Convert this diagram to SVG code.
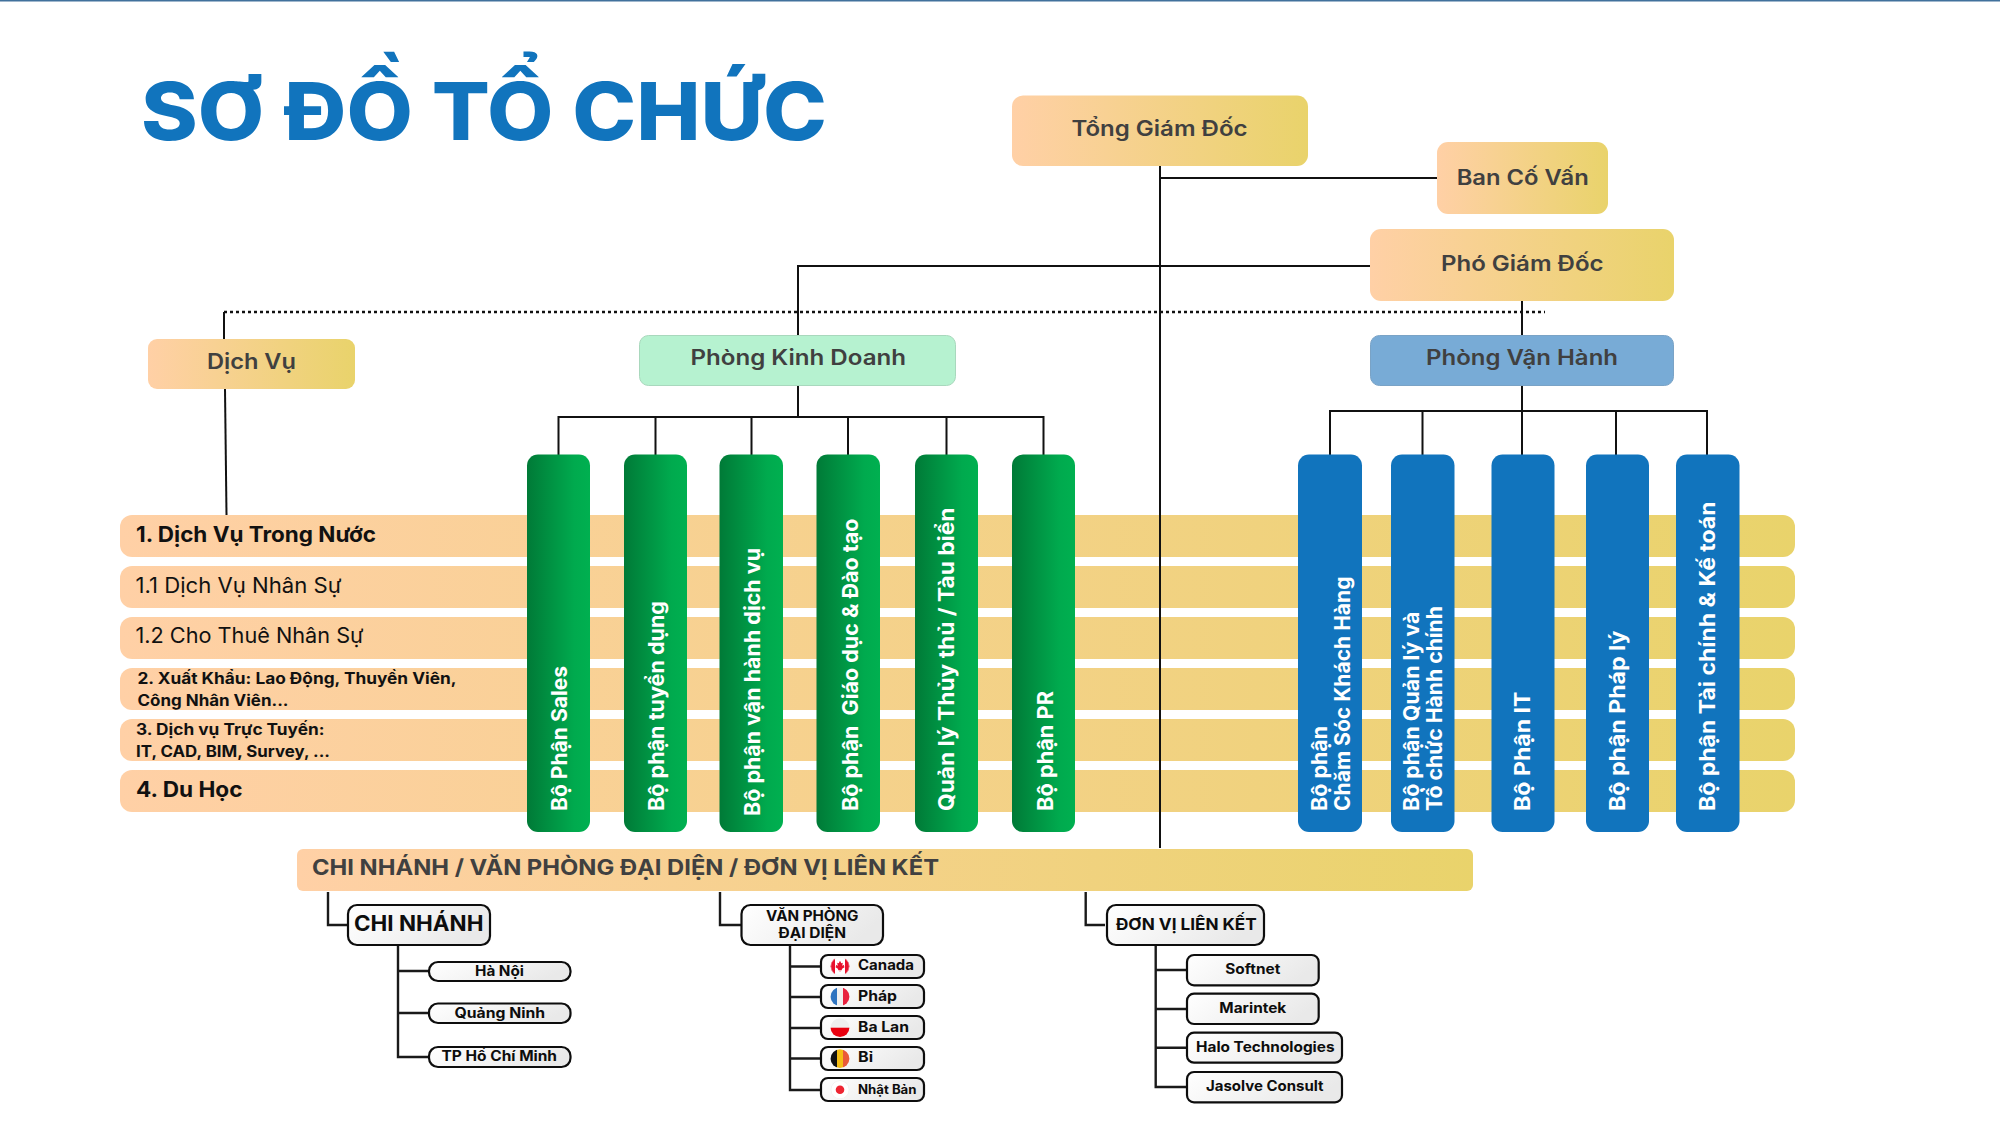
<svg xmlns="http://www.w3.org/2000/svg" width="2000" height="1136" viewBox="0 0 2000 1136">
  <style>
    text { font-family: "Inter", "Noto Sans", "Liberation Sans", sans-serif; }
    .title { font-size: 80px; font-weight: 800; fill: #1174bd; }
    .head { font-size: 21px; font-weight: 600; fill: #404040; }
    .strong { font-size: 21px; font-weight: 700; fill: #111; }
    .plain { font-size: 21px; font-weight: 400; fill: #111; }
    .small { font-size: 15.5px; font-weight: 700; fill: #111; }
    .banner { font-size: 21.5px; font-weight: 700; fill: #404040; }
    .col { font-size: 21px; font-weight: 700; fill: #fff; }
    .unit { font-size: 21px; font-weight: 700; fill: #0d0d0d; }
    .sub { font-size: 14px; font-weight: 700; fill: #0d0d0d; }
    .line { fill: none; stroke: #111; stroke-width: 2; }
    .heavy { fill: none; stroke: #1a1a1a; stroke-width: 2.4; }
    .dots { fill: none; stroke: #111; stroke-width: 2.4; stroke-dasharray: 3 3; }
    .box { stroke: #0d0d0d; stroke-width: 2.2; fill: url(#paper); }
  </style>
  <defs>
    <linearGradient id="warm" x1="0" x2="1" y1="0" y2="0">
      <stop offset="0" stop-color="#ffd0a6"/>
      <stop offset="1" stop-color="#e9d36b"/>
    </linearGradient>
    <linearGradient id="green" x1="0" x2="1" y1="0" y2="0">
      <stop offset="0" stop-color="#007a37"/>
      <stop offset="0.75" stop-color="#00aa4e"/>
      <stop offset="1" stop-color="#00b050"/>
    </linearGradient>
    <linearGradient id="paper" x1="0" x2="1" y1="0" y2="0.3">
      <stop offset="0" stop-color="#ffffff"/>
      <stop offset="1" stop-color="#e9e9e9"/>
    </linearGradient>
    <clipPath id="disc"><circle cx="0" cy="0" r="9.4"/></clipPath>
  </defs>

  <rect x="0" y="0" width="2000" height="1136" fill="#ffffff"/>
  <rect x="0" y="0" width="2000" height="1.5" fill="#41719c"/>

  <text class="title" x="141" y="139.5" textLength="686" lengthAdjust="spacingAndGlyphs">SƠ ĐỒ TỔ CHỨC</text>

  <!-- Service rows run behind the department columns -->
  <g id="service-rows">
    <g id="row-1"><rect x="120" y="515" width="1675" height="42" rx="12" fill="url(#warm)"/></g>
    <g id="row-1-1"><rect x="120" y="566" width="1675" height="42" rx="12" fill="url(#warm)"/></g>
    <g id="row-1-2"><rect x="120" y="617" width="1675" height="42" rx="12" fill="url(#warm)"/></g>
    <g id="row-2"><rect x="120" y="668" width="1675" height="42" rx="12" fill="url(#warm)"/></g>
    <g id="row-3"><rect x="120" y="719" width="1675" height="42" rx="12" fill="url(#warm)"/></g>
    <g id="row-4"><rect x="120" y="770" width="1675" height="42" rx="12" fill="url(#warm)"/></g>
  </g>

  <g id="connectors">
    <path class="line" d="M1160 166V848"/>
    <path class="line" d="M1160 178H1437"/>
    <path class="line" d="M1370 266H798V335"/>
    <path class="line" d="M798 385V417"/>
    <path class="line" d="M558.5 455V417H1043.5V455"/>
    <path class="line" d="M655.5 417V455M751.5 417V455M848 417V455M946.5 417V455"/>
    <path class="dots" d="M224 312H1545"/>
    <path class="line" d="M224 339V312"/>
    <path class="line" d="M225 389L226.500 515"/>
    <path class="line" d="M1522 300V335M1522 385V455"/>
    <path class="line" d="M1330 455V411H1707V455"/>
    <path class="line" d="M1422.500 411V455M1616 411V455"/>
    <path class="heavy" d="M328 892V925H348"/>
    <path class="heavy" d="M398 945V1057H429M398 971H429M398 1013H429"/>
    <path class="heavy" d="M720 892V925H741"/>
    <path class="heavy" d="M790 945V1090H821M790 966.500H821M790 997H821M790 1028H821M790 1058.500H821"/>
    <path class="heavy" d="M1085.700 892V925H1105"/>
    <path class="heavy" d="M1155.700 945V1087H1186M1155.700 970H1186M1155.700 1009H1186M1155.700 1047.700H1186"/>
  </g>

  <g id="tong-giam-doc">
    <rect x="1012" y="95.500" width="296" height="70.500" rx="11" fill="url(#warm)"/>
    <text class="head" x="1071.500" y="136" textLength="176" lengthAdjust="spacingAndGlyphs">Tổng Giám Đốc</text>
  </g>
  <g id="ban-co-van">
    <rect x="1437" y="142" width="171" height="72" rx="11" fill="url(#warm)"/>
    <text class="head" x="1456.700" y="184.500" textLength="132" lengthAdjust="spacingAndGlyphs">Ban Cố Vấn</text>
  </g>
  <g id="pho-giam-doc">
    <rect x="1370" y="229" width="304" height="72" rx="11" fill="url(#warm)"/>
    <text class="head" x="1441" y="271" textLength="162.500" lengthAdjust="spacingAndGlyphs">Phó Giám Đốc</text>
  </g>
  <g id="dich-vu">
    <rect x="148" y="339" width="207" height="50" rx="9" fill="url(#warm)"/>
    <text class="head" x="207" y="369" textLength="89" lengthAdjust="spacingAndGlyphs">Dịch Vụ</text>
  </g>
  <g id="phong-kinh-doanh">
    <rect x="639.500" y="335.500" width="316" height="50" rx="9" fill="#b6f2d0" stroke="#a9d8bd" stroke-width="1"/>
    <text class="head" x="690.500" y="365" textLength="215.500" lengthAdjust="spacingAndGlyphs">Phòng Kinh Doanh</text>
  </g>
  <g id="phong-van-hanh">
    <rect x="1370.500" y="335.500" width="303" height="50" rx="9" fill="#78abd6" stroke="#7aa3c6" stroke-width="1"/>
    <text class="head" x="1426" y="365" textLength="192" lengthAdjust="spacingAndGlyphs">Phòng Vận Hành</text>
  </g>

  <g id="row-labels">
    <text class="strong" x="136" y="541.700" textLength="240" lengthAdjust="spacingAndGlyphs">1. Dịch Vụ Trong Nước</text>
    <text class="plain" x="135.500" y="592.700" textLength="206" lengthAdjust="spacingAndGlyphs">1.1 Dịch Vụ Nhân Sự</text>
    <text class="plain" x="135.500" y="642.700" textLength="228" lengthAdjust="spacingAndGlyphs">1.2 Cho Thuê Nhân Sự</text>
    <text class="small" x="137.500" y="684" textLength="319" lengthAdjust="spacingAndGlyphs">2. Xuất Khẩu: Lao Động, Thuyền Viên,</text>
    <text class="small" x="137.500" y="706" textLength="151" lengthAdjust="spacingAndGlyphs">Công Nhân Viên...</text>
    <text class="small" x="136" y="735" textLength="188.500" lengthAdjust="spacingAndGlyphs">3. Dịch vụ Trực Tuyến:</text>
    <text class="small" x="136" y="757" textLength="194" lengthAdjust="spacingAndGlyphs">IT, CAD, BIM, Survey, ...</text>
    <text class="strong" x="136" y="796.700" textLength="106.500" lengthAdjust="spacingAndGlyphs">4. Du Học</text>
  </g>

  <g id="sales-departments">
    <g id="bo-phan-sales">
      <rect x="527" y="454.500" width="63" height="377.500" rx="11" fill="url(#green)"/>
      <text class="col" transform="translate(567 811) rotate(-90)" textLength="145" lengthAdjust="spacingAndGlyphs">Bộ Phận Sales</text>
    </g>
    <g id="bo-phan-tuyen-dung">
      <rect x="624" y="454.500" width="63" height="377.500" rx="11" fill="url(#green)"/>
      <text class="col" transform="translate(664 811) rotate(-90)" textLength="210" lengthAdjust="spacingAndGlyphs">Bộ phận tuyển dụng</text>
    </g>
    <g id="bo-phan-van-hanh-dich-vu">
      <rect x="719.500" y="454.500" width="63.500" height="377.500" rx="11" fill="url(#green)"/>
      <text class="col" transform="translate(759.500 816) rotate(-90)" textLength="268" lengthAdjust="spacingAndGlyphs">Bộ phận vận hành dịch vụ</text>
    </g>
    <g id="bo-phan-giao-duc">
      <rect x="816.500" y="454.500" width="63.500" height="377.500" rx="11" fill="url(#green)"/>
      <text class="col" transform="translate(857.500 811) rotate(-90)" textLength="292.500" lengthAdjust="spacingAndGlyphs" xml:space="preserve">Bộ phận  Giáo dục &amp; Đào tạo</text>
    </g>
    <g id="quan-ly-thuy-thu">
      <rect x="915" y="454.500" width="63" height="377.500" rx="11" fill="url(#green)"/>
      <text class="col" transform="translate(953.500 811) rotate(-90)" textLength="303.500" lengthAdjust="spacingAndGlyphs">Quản lý Thủy thủ / Tàu biển</text>
    </g>
    <g id="bo-phan-pr">
      <rect x="1012" y="454.500" width="63" height="377.500" rx="11" fill="url(#green)"/>
      <text class="col" transform="translate(1053 811) rotate(-90)" textLength="120" lengthAdjust="spacingAndGlyphs">Bộ phận PR</text>
    </g>
  </g>

  <g id="operations-departments" fill="#1174bd">
    <g id="bo-phan-cham-soc">
      <rect x="1298" y="454.500" width="64" height="377.500" rx="11"/>
      <text class="col" transform="translate(1326.500 811) rotate(-90)" textLength="85" lengthAdjust="spacingAndGlyphs">Bộ phận</text>
      <text class="col" transform="translate(1349.700 811) rotate(-90)" textLength="234.500" lengthAdjust="spacingAndGlyphs">Chăm Sóc Khách Hàng</text>
    </g>
    <g id="bo-phan-quan-ly">
      <rect x="1391" y="454.500" width="63.500" height="377.500" rx="11"/>
      <text class="col" transform="translate(1419 811) rotate(-90)" textLength="199.500" lengthAdjust="spacingAndGlyphs">Bộ phận Quản lý và</text>
      <text class="col" transform="translate(1441.500 811) rotate(-90)" textLength="205" lengthAdjust="spacingAndGlyphs">Tổ chức Hành chính</text>
    </g>
    <g id="bo-phan-it">
      <rect x="1491.500" y="454.500" width="63" height="377.500" rx="11"/>
      <text class="col" transform="translate(1529.500 811) rotate(-90)" textLength="119.500" lengthAdjust="spacingAndGlyphs">Bộ Phận IT</text>
    </g>
    <g id="bo-phan-phap-ly">
      <rect x="1586" y="454.500" width="63" height="377.500" rx="11"/>
      <text class="col" transform="translate(1625 811) rotate(-90)" textLength="180.500" lengthAdjust="spacingAndGlyphs">Bộ phận Pháp lý</text>
    </g>
    <g id="bo-phan-tai-chinh">
      <rect x="1676" y="454.500" width="63.500" height="377.500" rx="11"/>
      <text class="col" transform="translate(1715 811) rotate(-90)" textLength="309.500" lengthAdjust="spacingAndGlyphs">Bộ phận Tài chính &amp; Kế toán</text>
    </g>
  </g>

  <g id="network-banner">
    <rect x="297" y="849" width="1176" height="42" rx="6" fill="url(#warm)"/>
    <text class="banner" x="312" y="875" textLength="627" lengthAdjust="spacingAndGlyphs">CHI NHÁNH / VĂN PHÒNG ĐẠI DIỆN / ĐƠN VỊ LIÊN KẾT</text>
  </g>

  <g id="chi-nhanh">
    <rect class="box" x="348" y="905" width="142" height="40" rx="9"/>
    <text class="unit" x="354" y="931" textLength="129.500" lengthAdjust="spacingAndGlyphs">CHI NHÁNH</text>
  </g>
  <g id="ha-noi">
    <rect class="box" x="429" y="962" width="141.500" height="19" rx="9"/>
    <text class="sub" x="475" y="976" textLength="49" lengthAdjust="spacingAndGlyphs">Hà Nội</text>
  </g>
  <g id="quang-ninh">
    <rect class="box" x="429" y="1003.500" width="141.500" height="19.500" rx="9"/>
    <text class="sub" x="454.500" y="1017.500" textLength="90.500" lengthAdjust="spacingAndGlyphs">Quảng Ninh</text>
  </g>
  <g id="tp-ho-chi-minh">
    <rect class="box" x="429" y="1047" width="141.500" height="20" rx="9"/>
    <text class="sub" x="441.500" y="1061" textLength="115.500" lengthAdjust="spacingAndGlyphs">TP Hồ Chí Minh</text>
  </g>

  <g id="van-phong-dai-dien">
    <rect class="box" x="741.500" y="905" width="141.500" height="40" rx="9"/>
    <text class="sub" x="766" y="921" textLength="92.500" lengthAdjust="spacingAndGlyphs">VĂN PHÒNG</text>
    <text class="sub" x="778.500" y="938" textLength="67.500" lengthAdjust="spacingAndGlyphs">ĐẠI DIỆN</text>
  </g>
  <g id="canada">
    <rect class="box" x="821" y="955" width="103" height="23" rx="7"/>
    <g transform="translate(840 966.300)" clip-path="url(#disc)">
      <rect x="-10" y="-10" width="20" height="20" fill="#ffffff"/>
      <rect x="-10" y="-10" width="5" height="20" fill="#e8112d"/>
      <rect x="5" y="-10" width="5" height="20" fill="#e8112d"/>
      <path d="M0 -5.500L1.300 -3L2.800 -3.600L2.200 -0.600L4.300 -1.600L3.800 0L4.800 0.700L1.800 2.800L2 4L0.300 3.800V5.500H-0.300V3.800L-2 4L-1.800 2.800L-4.800 0.700L-3.800 0L-4.300 -1.600L-2.200 -0.600L-2.800 -3.600L-1.300 -3Z" fill="#e8112d"/>
      <circle r="9.200" fill="none" stroke="#e4e4e4" stroke-width="0.500"/>
    </g>
    <text class="sub" x="858" y="970" textLength="56" lengthAdjust="spacingAndGlyphs">Canada</text>
  </g>
  <g id="phap">
    <rect class="box" x="821" y="985" width="103" height="23" rx="7"/>
    <g transform="translate(840 996.700)" clip-path="url(#disc)">
      <rect x="-10" y="-10" width="7" height="20" fill="#2f74c0"/>
      <rect x="-3" y="-10" width="6" height="20" fill="#f0f0f0"/>
      <rect x="3" y="-10" width="7" height="20" fill="#e8233f"/>
    </g>
    <text class="sub" x="858" y="1001" textLength="39" lengthAdjust="spacingAndGlyphs">Pháp</text>
  </g>
  <g id="ba-lan">
    <rect class="box" x="821" y="1016" width="103" height="23" rx="7"/>
    <g transform="translate(840 1027.700)" clip-path="url(#disc)">
      <rect x="-10" y="-10" width="20" height="10" fill="#efefef"/>
      <rect x="-10" y="0" width="20" height="10" fill="#e8000f"/>
    </g>
    <text class="sub" x="858" y="1032" textLength="51" lengthAdjust="spacingAndGlyphs">Ba Lan</text>
  </g>
  <g id="bi">
    <rect class="box" x="821" y="1047" width="103" height="23" rx="7"/>
    <g transform="translate(840 1058.700)" clip-path="url(#disc)">
      <rect x="-10" y="-10" width="7" height="20" fill="#111111"/>
      <rect x="-3" y="-10" width="6" height="20" fill="#f5bd14"/>
      <rect x="3" y="-10" width="7" height="20" fill="#ea5a38"/>
    </g>
    <text class="sub" x="858" y="1062" textLength="15" lengthAdjust="spacingAndGlyphs">Bỉ</text>
  </g>
  <g id="nhat-ban">
    <rect class="box" x="821" y="1078" width="103" height="23" rx="7"/>
    <g transform="translate(840 1089.700)" clip-path="url(#disc)">
      <circle r="9.200" fill="#ffffff" stroke="#e8e8e8" stroke-width="0.600"/>
      <circle r="4.300" fill="#ee2532"/>
    </g>
    <text class="sub" x="858" y="1093.500" textLength="58.500" lengthAdjust="spacingAndGlyphs" style="font-size:12.500px">Nhật Bản</text>
  </g>

  <g id="don-vi-lien-ket">
    <rect class="box" x="1107" y="905" width="157" height="40" rx="9"/>
    <text class="sub" x="1116" y="930" textLength="140.700" lengthAdjust="spacingAndGlyphs" style="font-size:16px">ĐƠN VỊ LIÊN KẾT</text>
  </g>
  <g id="softnet">
    <rect class="box" x="1187" y="955" width="131.700" height="30.300" rx="7"/>
    <text class="sub" x="1225.300" y="974" textLength="55" lengthAdjust="spacingAndGlyphs">Softnet</text>
  </g>
  <g id="marintek">
    <rect class="box" x="1187" y="993.700" width="131.700" height="30.300" rx="7"/>
    <text class="sub" x="1219.300" y="1013" textLength="67" lengthAdjust="spacingAndGlyphs">Marintek</text>
  </g>
  <g id="halo-technologies">
    <rect class="box" x="1187" y="1032.700" width="155" height="30" rx="7"/>
    <text class="sub" x="1196" y="1052" textLength="138.500" lengthAdjust="spacingAndGlyphs">Halo Technologies</text>
  </g>
  <g id="jasolve-consult">
    <rect class="box" x="1187" y="1072" width="155" height="30.300" rx="7"/>
    <text class="sub" x="1206" y="1091" textLength="117.500" lengthAdjust="spacingAndGlyphs">Jasolve Consult</text>
  </g>
</svg>
